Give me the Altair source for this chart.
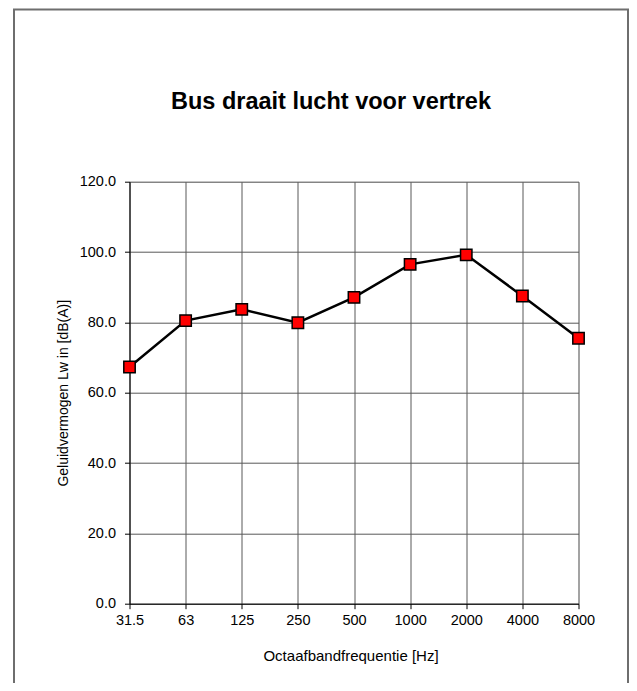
import altair as alt
import pandas as pd

# ---- data ----
freqs = ["31.5", "63", "125", "250", "500", "1000", "2000", "4000", "8000"]
levels = [67.3, 80.5, 83.7, 79.9, 87.1, 96.5, 99.2, 87.5, 75.5]
y_ticks = [0, 20, 40, 60, 80, 100, 120]

title_text = "Bus draait lucht voor vertrek"
x_title = "Octaafbandfrequentie [Hz]"
y_title = "Geluidvermogen Lw in  [dB(A)]"

df = pd.DataFrame({"freq": freqs, "level": levels})

FONT = "Liberation Sans"
W, H = 449, 422
PL, PT = 121.5, 173.7
PR, PB = 50.5, 79.3
GRID = "#585858"

x_enc = alt.X(
    "freq:N",
    sort=freqs,
    scale=alt.Scale(type="point", padding=0),
    axis=alt.Axis(
        title=x_title,
        labelAngle=0,
        labelFont=FONT,
        labelFontSize=14.5,
        labelColor="black",
        labelPadding=5,
        tickSize=5,
        tickColor="black",
        domainColor="black",
        domainWidth=1,
        grid=True,
        gridColor=GRID,
        gridWidth=1,
        titleFont=FONT,
        titleFontSize=15,
        titleFontWeight="normal",
        titleColor="black",
        titleBaseline="alphabetic",
        titleX=221,
        titleY=56.3,
    ),
)

y_enc = alt.Y(
    "level:Q",
    scale=alt.Scale(domain=[0, 120], nice=False, zero=True),
    axis=alt.Axis(
        title=y_title,
        values=y_ticks,
        format=".1f",
        labelFont=FONT,
        labelFontSize=14.5,
        labelColor="black",
        labelPadding=9,
        tickSize=5,
        tickColor="black",
        domainColor="black",
        domainWidth=1,
        grid=True,
        gridColor=GRID,
        gridWidth=1,
        titleFont=FONT,
        titleFontSize=14,
        titleFontWeight="normal",
        titleColor="black",
        titleBaseline="alphabetic",
        titleAngle=-90,
        titleX=-62,
        titleY=H / 2,
    ),
)

frame = alt.Chart(pd.DataFrame({"a": [0]})).mark_rect(
    fill=None, stroke="#6e6e6e", strokeWidth=2, clip=False
).encode(
    x=alt.value(14 - 8 - PL),
    x2=alt.value(628 - 8 - PL),
    y=alt.value(9.5 - 8 - PT),
    y2=alt.value(720 - 8 - PT),
)

title = alt.Chart(pd.DataFrame({"a": [0]})).mark_text(
    font=FONT, fontSize=23.5, fontWeight="bold", color="black",
    align="center", baseline="alphabetic"
).encode(
    x=alt.value(331 - 8 - PL),
    y=alt.value(109.3 - 8 - PT),
    text=alt.value(title_text),
)

line = alt.Chart(df).mark_line(color="black", strokeWidth=2.5).encode(x=x_enc, y=y_enc)

points = alt.Chart(df).mark_point(
    shape="square", filled=True, fill="#ff0000", stroke="black",
    strokeWidth=1.5, size=130, opacity=1
).encode(x=alt.X("freq:N", sort=freqs), y="level:Q")

chart = alt.layer(frame, title, line, points).properties(
    width=W,
    height=H,
    autosize=alt.AutoSizeParams(type="none"),
    padding={"left": PL, "top": PT, "right": PR, "bottom": PB},
).configure_view(stroke=None).configure(background="white")

chart.save("out.html", embed_options={"renderer": "svg", "actions": False})
